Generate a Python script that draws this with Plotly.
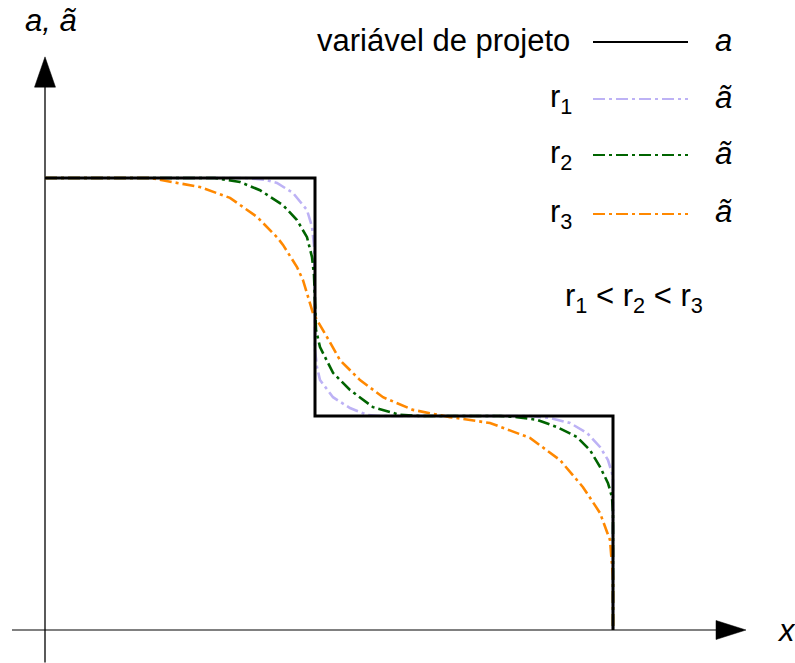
import plotly.graph_objects as go

W, H = 795, 663

# design variable a(x): piecewise-constant profile
step_x = [0.0, 2.70, 2.70, 5.68, 5.68]
step_a = [1.0, 1.0, 0.4735, 0.4735, 0.0]

# filtered variable ã(x) for three filter radii r1 < r2 < r3
r1_x = [0.0, 2.00, 2.20, 2.32, 2.48, 2.62, 2.67, 2.69, 2.70, 2.70, 2.72, 2.75, 2.88, 3.05, 3.22, 3.35,
        4.85, 5.05, 5.25, 5.42, 5.55, 5.63, 5.67, 5.68, 5.68]
r1_a = [1.0, 1.0, 0.996, 0.989, 0.967, 0.929, 0.892, 0.852, 0.730, 0.619, 0.582, 0.553, 0.515, 0.491, 0.476, 0.4735,
        0.4735, 0.469, 0.458, 0.436, 0.405, 0.376, 0.347, 0.332, 0.0]

r2_x = [0.0, 1.70, 1.95, 2.15, 2.38, 2.52, 2.62, 2.67, 2.69, 2.70, 2.71, 2.75, 2.88, 3.05, 3.28, 3.55, 3.75,
        4.55, 4.72, 4.92, 5.12, 5.32, 5.45, 5.55, 5.63, 5.67, 5.68, 5.68]
r2_a = [1.0, 1.0, 0.991, 0.973, 0.940, 0.907, 0.869, 0.825, 0.785, 0.730, 0.664, 0.626, 0.569, 0.531, 0.493, 0.476, 0.4735,
        0.4735, 0.471, 0.465, 0.449, 0.427, 0.398, 0.361, 0.325, 0.294, 0.259, 0.0]

r3_x = [0.0, 1.05, 1.55, 1.85, 2.12, 2.32, 2.38, 2.52, 2.58, 2.68, 2.82, 2.95, 3.15, 3.38, 3.68, 4.05,
        4.45, 4.85, 5.15, 5.38, 5.55, 5.65, 5.68, 5.68]
r3_a = [1.0, 1.0, 0.980, 0.956, 0.914, 0.869, 0.852, 0.803, 0.774, 0.701, 0.648, 0.597, 0.553, 0.515, 0.487, 0.471,
        0.458, 0.425, 0.376, 0.316, 0.259, 0.199, 0.117, 0.0]

series_names = ["r<sub>1</sub>", "r<sub>2</sub>", "r<sub>3</sub>"]
series_colors = ["#bdb2f5", "#006400", "#ff8800"]

FONT = "Arial, 'Liberation Sans', sans-serif"
FS = 31
DASHDOT = "12px,4px,3px,4px"

fig = go.Figure()

# filtered curves first, the step profile drawn over them
for xs, ys, col in zip([r1_x, r2_x, r3_x], [r1_a, r2_a, r3_a], series_colors):
    fig.add_trace(go.Scatter(x=xs, y=ys, mode="lines",
                             line=dict(color=col, width=2.6, dash=DASHDOT),
                             hoverinfo="skip", showlegend=False))

fig.add_trace(go.Scatter(x=step_x, y=step_a, mode="lines",
                         line=dict(color="black", width=3),
                         hoverinfo="skip", showlegend=False))


def px(p):
    return p / W


def py(p):
    return 1 - p / H


shapes = [
    # x axis (gray) and y axis (black)
    dict(type="line", xref="x", yref="y", x0=-0.33, x1=6.72, y0=0, y1=0,
         line=dict(color="#808080", width=2), layer="below"),
    dict(type="line", xref="x", yref="y", x0=0, x1=0, y0=-0.072, y1=1.205,
         line=dict(color="black", width=1.3), layer="below"),
    # arrow heads
    dict(type="path", xref="x", yref="y",
         path="M 6.71 -0.021 L 7.01 0 L 6.71 0.021 Z",
         fillcolor="black", line=dict(color="black", width=0.5)),
    dict(type="path", xref="x", yref="y",
         path="M -0.105 1.201 L 0 1.268 L 0.105 1.201 Z",
         fillcolor="black", line=dict(color="black", width=0.5)),
]

# legend samples
legend_rows = [42, 99, 155, 214]
legend_colors = ["black"] + series_colors
for yy, col in zip(legend_rows, legend_colors):
    shapes.append(dict(type="line", xref="paper", yref="paper",
                       x0=px(593), x1=px(688), y0=py(yy), y1=py(yy),
                       line=dict(color=col, width=2,
                                 dash="solid" if col == "black" else DASHDOT)))

annotations = [
    dict(text="<i>a, ã</i>", x=px(23), y=py(20), xanchor="left", yanchor="middle"),
    dict(text="<i>x</i>", x=px(786), y=py(630), xanchor="center", yanchor="middle"),
    dict(text="variável de projeto", x=px(572), y=py(40), xanchor="right", yanchor="middle"),
    dict(text="<i>a</i>", x=px(713), y=py(40), xanchor="left", yanchor="middle"),
    dict(text="r<sub>1</sub> &lt; r<sub>2</sub> &lt; r<sub>3</sub>", x=px(634), y=py(298),
         xanchor="center", yanchor="middle"),
]
for yy, name in zip(legend_rows[1:], series_names):
    annotations.append(dict(text=name, x=px(574), y=py(yy), xanchor="right", yanchor="middle"))
    annotations.append(dict(text="<i>ã</i>", x=px(713), y=py(yy - 2), xanchor="left", yanchor="middle"))

for a in annotations:
    a.update(xref="paper", yref="paper", showarrow=False,
             font=dict(family=FONT, size=FS, color="black"))

fig.update_layout(
    width=W, height=H, autosize=False,
    margin=dict(l=0, r=0, t=0, b=0, pad=0),
    paper_bgcolor="white", plot_bgcolor="white",
    xaxis=dict(range=[-0.45, 7.50], visible=False, fixedrange=True),
    yaxis=dict(range=[-0.0730, 1.3938], visible=False, fixedrange=True),
    shapes=shapes, annotations=annotations, showlegend=False,
)

fig.write_html("out.html")
